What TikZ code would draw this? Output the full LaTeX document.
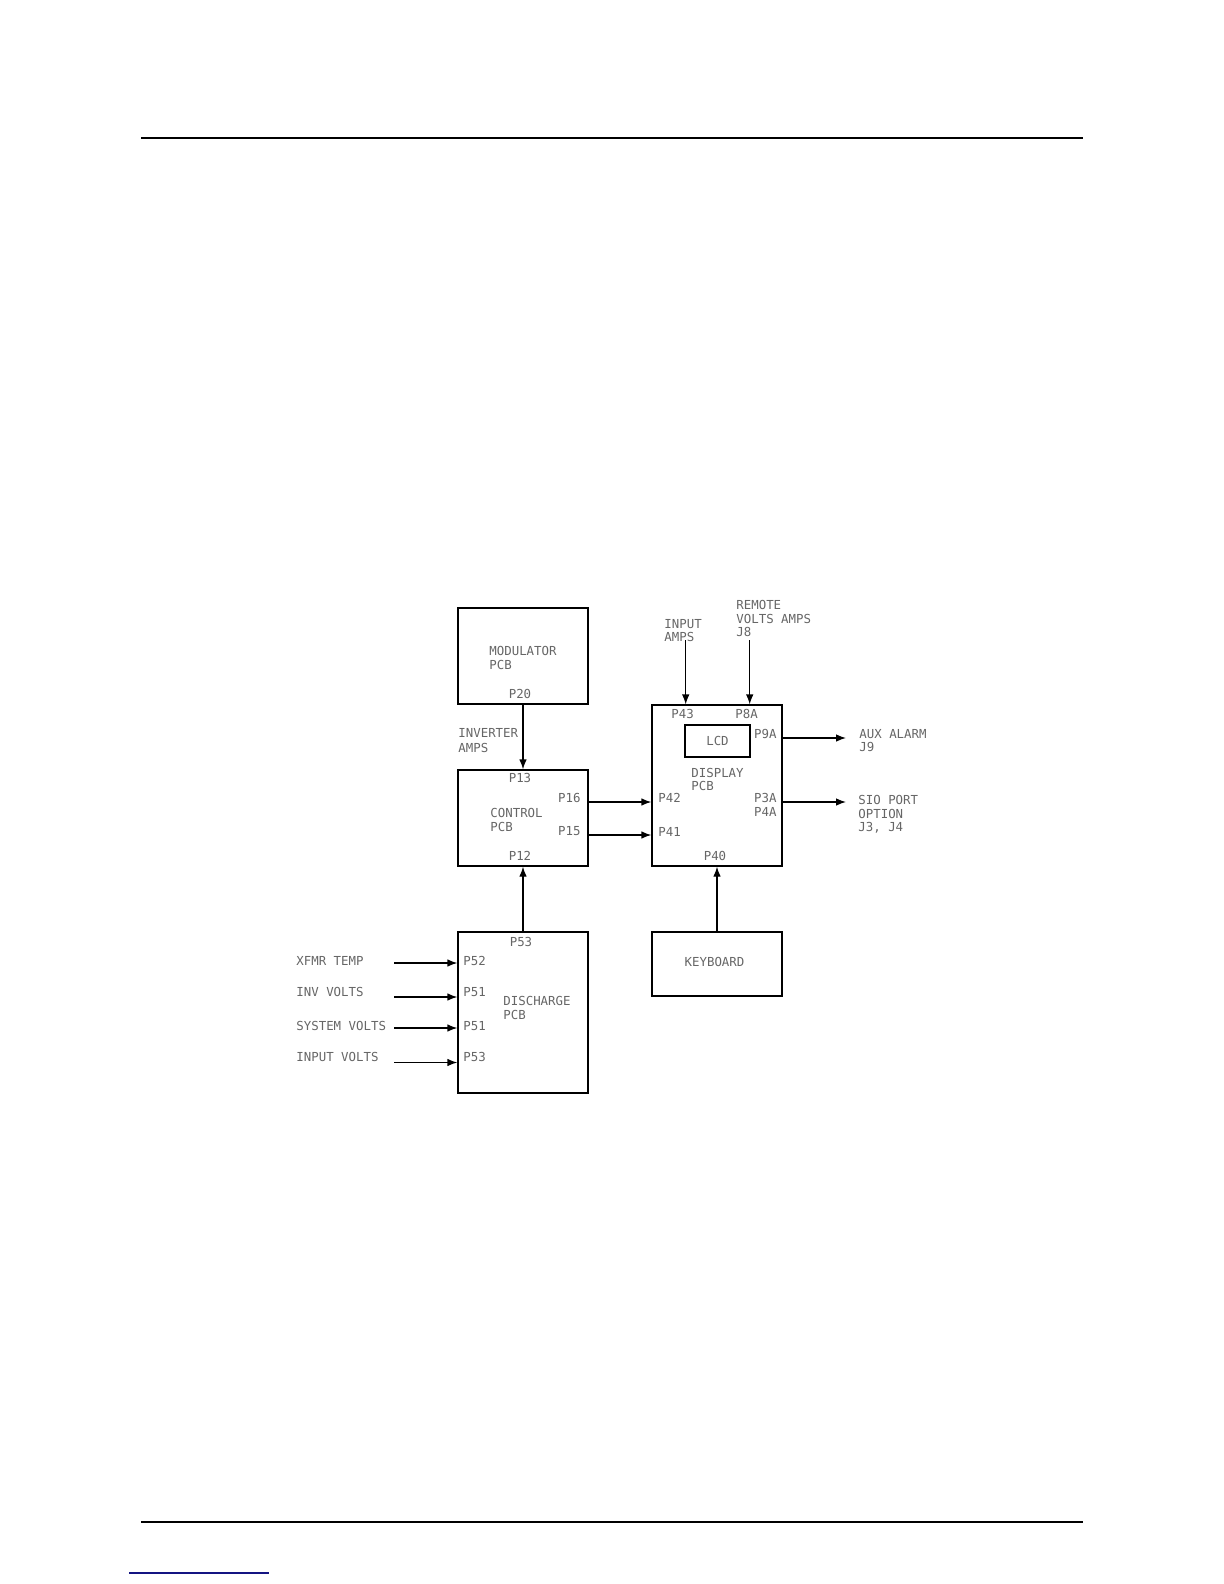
\documentclass[tikz,border=0pt]{standalone}
\usepackage{fontspec}
\newfontfamily\plotfont{DejaVu Sans Mono}
\usetikzlibrary{arrows.meta}
\tikzset{
  blk/.style={draw,line width=.65pt,minimum width=65pt,inner sep=0pt},
  lbl/.style={inner sep=0pt,text=black!60,font=\plotfont\fontsize{6.2}{6.7}\selectfont,align=left},
  wire/.style={line width=.65pt,-{Latex[length=5pt,width=3.8pt]}}
}
\begin{document}
\begin{tikzpicture}[x=.5pt,y=-.5pt]
\useasboundingbox (0,0) rectangle (1224,1584);
% page rules
\draw[line width=1pt](141,138)--(1083,138);
\draw[line width=1pt](141,1522)--(1083,1522);
\draw[line width=.8pt,color={rgb,255:red,20;green,20;blue,130}](129,1573)--(269,1573);
% boards
\node[blk,minimum height=48pt](mod) at (523,656){};
\node[blk,minimum height=48pt](ctrl) at (523,818){};
\node[blk,minimum height=80.5pt](disch) at (523,1012.5){};
\node[blk,minimum height=80.5pt](disp) at (717,785.5){};
\node[blk,minimum height=32pt](kbd) at (717,964){};
\node[blk,minimum width=32.5pt,minimum height=16pt](lcd) at (717.5,741){};
% board texts
\node[lbl,anchor=north west](modt) at (489,646){MODULATOR\\PCB};
\node[lbl](p20) at (520,694){P20};
\node[lbl,anchor=north west,font=\plotfont\fontsize{6.2}{7.5}\selectfont](invamps) at (458,728){INVERTER\\AMPS};
\node[lbl](p13) at (520,778){P13};
\node[lbl,anchor=north west](ctrlt) at (490,808){CONTROL\\PCB};
\node[lbl,anchor=east](p16) at (581,798){P16};
\node[lbl,anchor=east](p15) at (581,831){P15};
\node[lbl](p12) at (520,856){P12};
\node[lbl,anchor=west](p43) at (671,714){P43};
\node[lbl,anchor=west](p8a) at (735,714){P8A};
\node[lbl](lcdt) at (lcd){LCD};
\node[lbl,anchor=north west](dispt) at (691,767.5){DISPLAY\\PCB};
\node[lbl,anchor=west](p42) at (658,798){P42};
\node[lbl,anchor=west](p41) at (658,832){P41};
\node[lbl,anchor=east](p9a) at (777,734){P9A};
\node[lbl,anchor=north east,align=right](p3a) at (777,793){P3A\\P4A};
\node[lbl](p40) at (715,856){P40};
\node[lbl](kbdt) at (714.5,962){KEYBOARD};
\node[lbl](p53t) at (521,942){P53};
\node[lbl,anchor=west](p52) at (463,961){P52};
\node[lbl,anchor=west](p51a) at (463,992){P51};
\node[lbl,anchor=west](p51b) at (463,1026){P51};
\node[lbl,anchor=west](p53) at (463,1057){P53};
\node[lbl,anchor=north west](discht) at (503,996){DISCHARGE\\PCB};
% outside signals
\node[lbl,anchor=north west](inamps) at (664,619){INPUT\\AMPS};
\node[lbl,anchor=north west](remote) at (736,600){REMOTE\\VOLTS AMPS\\J8};
\node[lbl,anchor=north west](aux) at (859,729){AUX ALARM\\J9};
\node[lbl,anchor=north west](sio) at (858,795){SIO PORT\\OPTION\\J3, J4};
\node[lbl,anchor=west](xfmr) at (296,961){XFMR TEMP};
\node[lbl,anchor=west](invv) at (296,992){INV VOLTS};
\node[lbl,anchor=west](sysv) at (296,1026){SYSTEM VOLTS};
\node[lbl,anchor=west](inv) at (296,1057){INPUT VOLTS};
\coordinate(ia) at (685.7,640);
\coordinate(rv) at (749.7,640);
\coordinate(auxe) at (846,738);
\coordinate(sioe) at (846,802);
\coordinate(lowrow) at (600,835);
\coordinate(s1) at (394,963);
\coordinate(s2) at (394,997);
\coordinate(s3) at (394,1028);
\coordinate(s4) at (394,1062.5);
% connections
\draw[wire](mod)--(ctrl);
\draw[wire](disch)--(ctrl);
\draw[wire](kbd)--(disp);
\draw[wire](ia)--(ia|-disp.north);
\draw[wire](rv)--(rv|-disp.north);
\draw[wire](auxe-|disp.east)--(auxe);
\draw[wire](sioe-|disp.east)--(sioe);
\draw[wire](ctrl.east|-sioe)--(disp.west|-sioe);
\draw[wire](ctrl.east|-lowrow)--(disp.west|-lowrow);
\draw[wire](s1)--(s1-|disch.west);
\draw[wire](s2)--(s2-|disch.west);
\draw[wire](s3)--(s3-|disch.west);
\draw[wire](s4)--(s4-|disch.west);
\end{tikzpicture}
\end{document}
